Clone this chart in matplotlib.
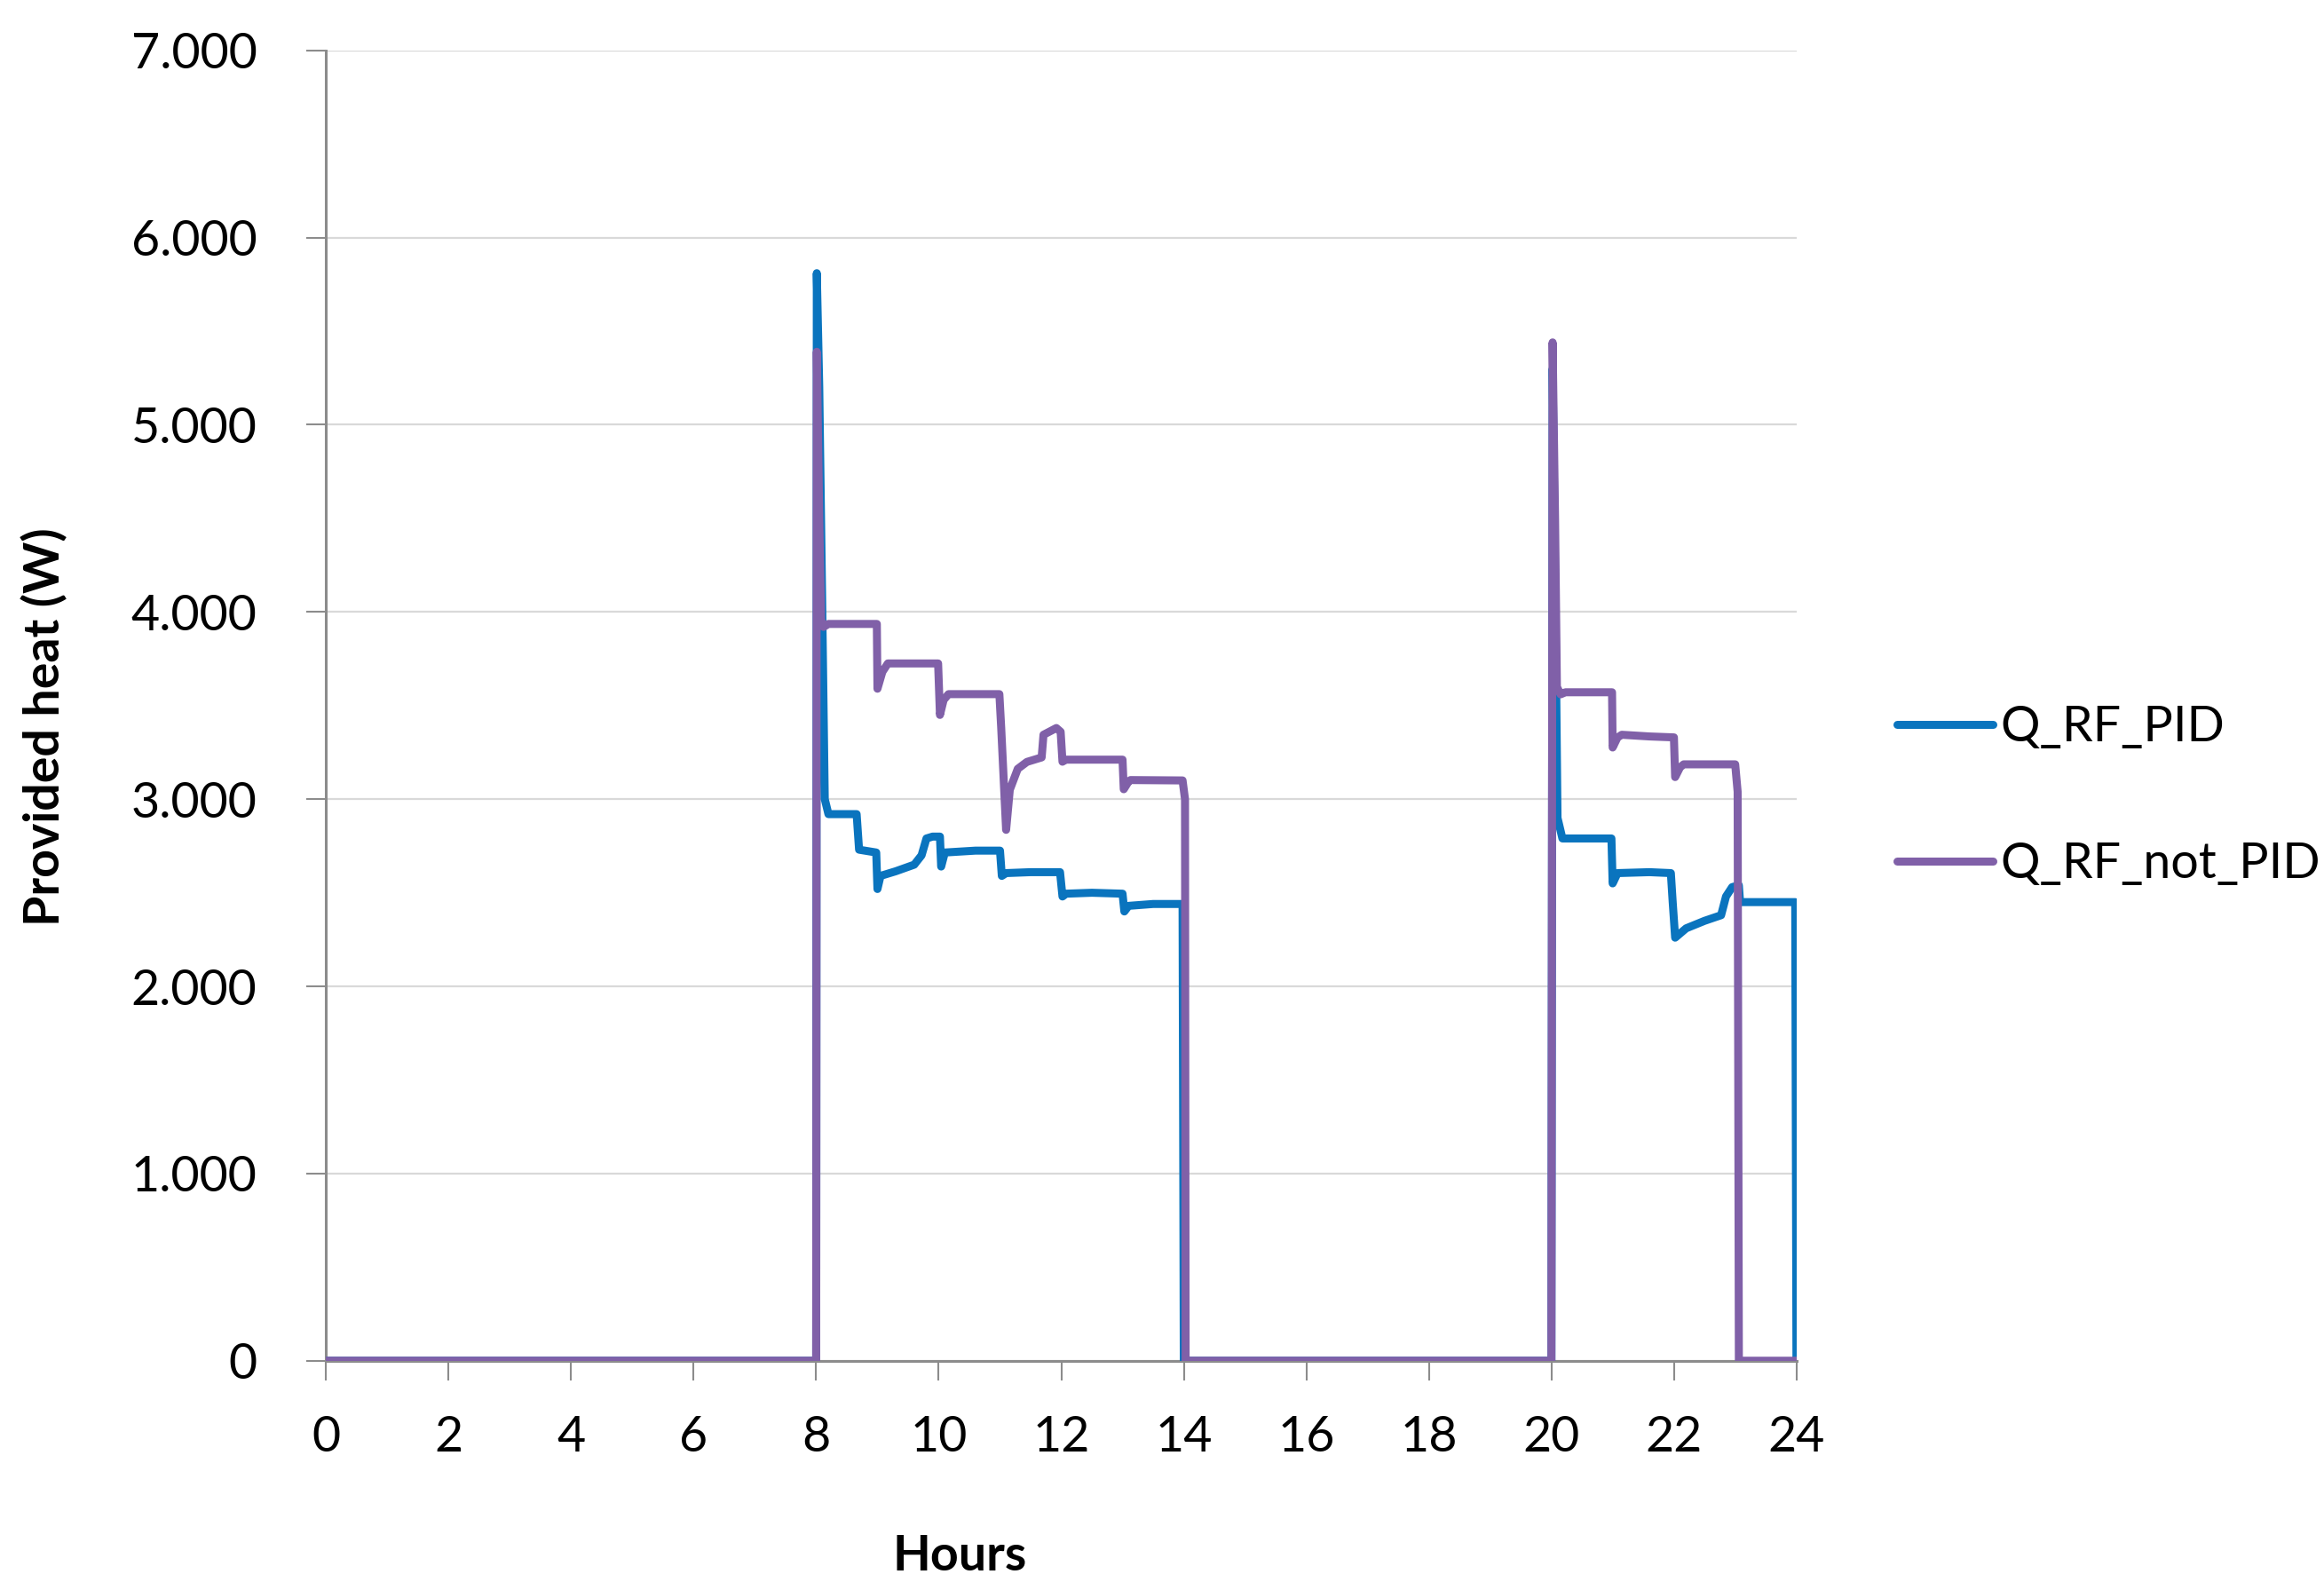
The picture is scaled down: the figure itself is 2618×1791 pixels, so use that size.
import matplotlib
matplotlib.use("Agg")
import matplotlib.pyplot as plt
from matplotlib.ticker import FuncFormatter

# Q_RF_PID (blue)
hours_pid = [0, 8.0, 8.01, 8.05, 8.10, 8.14, 8.2, 8.66, 8.70, 8.98, 9.0, 9.05, 9.3, 9.6, 9.72,
             9.8, 9.9, 10.02, 10.04, 10.1, 10.6, 11.0, 11.03, 11.1, 11.5, 11.98, 12.02, 12.08,
             12.5, 13.0, 13.03, 13.1, 13.5, 13.98, 14.0, 20.0, 20.02, 20.06, 20.1, 20.18, 20.98,
             21.0, 21.08, 21.6, 21.95, 21.98, 22.02, 22.2, 22.5, 22.77, 22.85, 22.95, 23.06,
             23.08, 23.98, 24.0]
heat_pid = [0, 0, 5810, 5200, 4000, 3000, 2920, 2920, 2730, 2715, 2520, 2590, 2615, 2650, 2700,
            2790, 2800, 2800, 2640, 2715, 2725, 2725, 2590, 2605, 2610, 2610, 2480, 2495,
            2500, 2495, 2400, 2430, 2440, 2440, 0, 0, 5300, 4200, 2900, 2790, 2790,
            2550, 2605, 2610, 2605, 2450, 2260, 2310, 2350, 2380, 2480, 2530, 2540,
            2450, 2450, 0]

# Q_RF_not_PID (purple)
hours_not = [0, 8.0, 8.01, 8.05, 8.08, 8.12, 8.2, 8.99, 9.0, 9.08, 9.17, 9.99, 10.02, 10.08,
             10.16, 10.99, 11.02, 11.1, 11.16, 11.29, 11.44, 11.68, 11.71, 11.92, 11.99, 12.02,
             12.07, 13.0, 13.02, 13.1, 13.13, 13.98, 14.02, 14.03, 20.0, 20.02, 20.06, 20.09,
             20.15, 20.23, 20.99, 21.0, 21.08, 21.15, 21.6, 22.0, 22.02, 22.1, 22.16, 23.0,
             23.04, 23.06, 24.0]
heat_not = [0, 0, 5390, 4500, 3960, 3920, 3936, 3936, 3590, 3680, 3725, 3725, 3450, 3530,
            3561, 3561, 3380, 2836, 3050, 3162, 3199, 3223, 3344, 3380, 3360, 3200,
            3211, 3211, 3053, 3095, 3102, 3100, 3000, 0, 0, 5440, 4500, 3600,
            3560, 3571, 3571, 3276, 3330, 3344, 3335, 3330, 3118, 3170, 3186, 3186,
            3040, 0, 0]

x_ticks = list(range(0, 25, 2))
y_ticks = list(range(0, 7001, 1000))

plt.rcParams['font.family'] = ['Lato', 'DejaVu Sans']

fig = plt.figure(figsize=(26.18, 17.91), dpi=100)
ax = fig.add_axes([0.1403, 0.1442, 0.773 - 0.1403, 0.9683 - 0.1442])

blue = '#0A74BE'
purple = '#8060A8'
lw = 6.5
ax.plot(hours_pid, heat_pid, color=blue, lw=lw, solid_capstyle='round',
        solid_joinstyle='round', label='Q_RF_PID', zorder=3)
ax.plot(hours_not, heat_not, color=purple, lw=lw, solid_capstyle='round',
        solid_joinstyle='round', label='Q_RF_not_PID', zorder=4)

ax.set_xlim(0, 24)
ax.set_ylim(0, 7000)
ax.set_xticks(x_ticks)
ax.set_yticks(y_ticks)
ax.yaxis.set_major_formatter(FuncFormatter(lambda v, p: f"{int(v):,}".replace(",", ".")))

ax.grid(axis='y', color='#d9d9d9', lw=1.6, zorder=0)
for s in ['top', 'right']:
    ax.spines[s].set_visible(False)
for s in ['left', 'bottom']:
    ax.spines[s].set_color('#8c8c8c')
    ax.spines[s].set_linewidth(2.2)
ax.tick_params(axis='y', direction='out', length=16, width=1.5, color='#8c8c8c',
               labelsize=40, pad=40)
ax.tick_params(axis='x', direction='out', length=16, width=1.5, color='#8c8c8c',
               labelsize=40, pad=28)

fig.text(0.019, 0.543, 'Provided heat (W)', rotation=90, fontsize=40, fontweight='bold',
         ha='center', va='center')
fig.text(0.413, 0.021, 'Hours', fontsize=40, fontweight='bold', ha='center', va='center')

fig.legend(loc='center left', bbox_to_anchor=(0.8163, 0.4994), frameon=False,
           fontsize=40, handlelength=1.95, handletextpad=0.15, labelspacing=1.85,
           borderpad=0, borderaxespad=0)

fig.savefig('out.png', dpi=100)
